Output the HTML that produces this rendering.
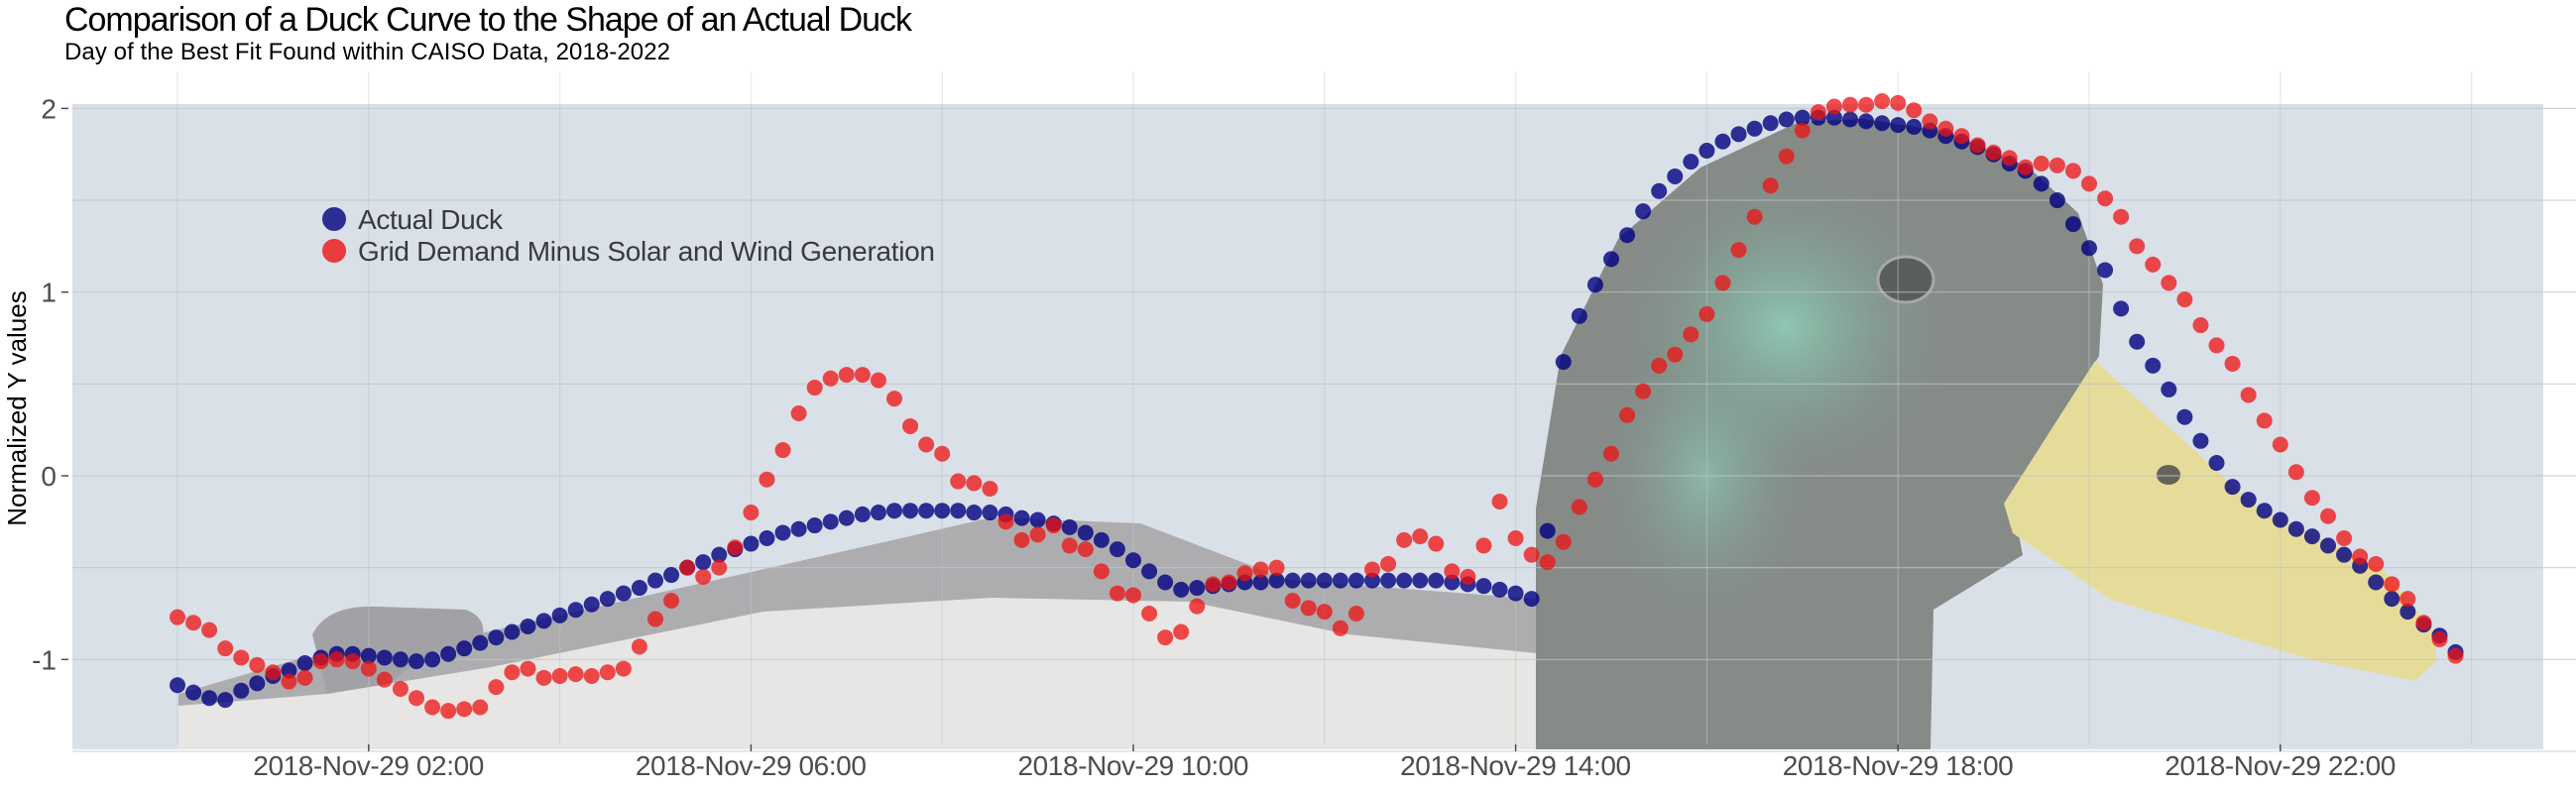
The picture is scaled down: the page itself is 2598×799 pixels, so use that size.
<!DOCTYPE html>
<html><head><meta charset="utf-8"><style>
html,body{margin:0;padding:0;background:#fff;}
svg{display:block;}
.nar{font-family:"Liberation Sans Narrow","Liberation Sans",sans-serif;}
</style></head><body>
<svg id="chart" width="2598" height="799" viewBox="0 0 2598 799" xmlns="http://www.w3.org/2000/svg">
<defs>
<radialGradient id="greenPatch" cx="0.5" cy="0.5" r="0.5">
<stop offset="0" stop-color="#8fd6bc"/><stop offset="1" stop-color="#7a9a8c" stop-opacity="0"/>
</radialGradient>
<clipPath id="panelClip"><rect x="73" y="105" width="2492" height="651"/></clipPath>
</defs>
<text class="nar" x="65" y="31" font-size="34" fill="#000" textLength="855">Comparison of a Duck Curve to the Shape of an Actual Duck</text>
<text class="nar" x="65" y="60" font-size="24" fill="#000" textLength="611">Day of the Best Fit Found within CAISO Data, 2018-2022</text>

<g id="gridOuter"></g>

<g clip-path="url(#panelClip)">
<rect x="73" y="105" width="2492" height="651" fill="#d9e0e8"/>
<path d="M180,700 L300,665 L480,640 L700,590 L900,545 L1000,522 L1150,528 L1300,585 L1560,605 L1560,756 L180,756 Z" fill="#adadb0"/>
<path d="M315,640 Q330,610 380,612 L470,615 Q495,625 484,650 L430,660 L380,700 L330,700 Z" fill="#a2a2a6"/>
<path d="M180,712 L330,700 L495,673 L770,617 L1000,603 L1200,607 L1360,640 L1560,660 L1560,756 L180,756 Z" fill="#e7e6e4"/>
<path d="M1549,756 L1549,513 L1574,359 L1632,241 L1715,169 L1814,123 L1880,120 L1963,133 L2046,169 L2096,215 L2121,287 L2117,359 L2030,508 L2040,560 L1950,615 L1947,756 Z" fill="#868b88"/>
<ellipse cx="1800" cy="330" rx="170" ry="160" fill="url(#greenPatch)" opacity="0.8"/>
<ellipse cx="1720" cy="480" rx="110" ry="150" fill="url(#greenPatch)" opacity="0.6"/>
<ellipse cx="1922" cy="282" rx="28" ry="23" fill="#5a5e5e" stroke="#a8a8a8" stroke-width="3"/>
<path d="M2113,364 L2278,513 L2403,574 L2457,640 L2457,667 L2436,687 L2336,667 L2129,605 L2030,538 L2021,508 Z" fill="#e6dc9a"/>
<ellipse cx="2187" cy="479" rx="12" ry="10" fill="#66645a"/>
</g>

<g id="gridInner"></g>
<g id="yAxis"></g>
<g id="xAxis"></g>
<text x="0" y="0" transform="translate(26,412) rotate(-90)" text-anchor="middle" font-family="Liberation Sans, sans-serif" font-size="26" fill="#000">Normalized Y values</text>
<g id="series"></g>

<g>
<g>
<circle cx="337" cy="221" r="12" fill="#000080" fill-opacity="0.8"/>
<text class="nar" x="361" y="231" font-size="28" fill="#3a3a3a" textLength="146">Actual Duck</text>
</g>
<g>
<circle cx="337" cy="253" r="12" fill="#ee1111" fill-opacity="0.8"/>
<text class="nar" x="361" y="263" font-size="28" fill="#3a3a3a" textLength="582">Grid Demand Minus Solar and Wind Generation</text>
</g>
</g>
</svg>
<script>
var duckValues = [-1.14,-1.18,-1.21,-1.22,-1.17,-1.13,-1.09,-1.06,-1.02,-0.99,-0.97,-0.97,-0.98,-0.99,-1.00,-1.01,-1.00,-0.97,-0.94,-0.91,-0.88,-0.85,-0.82,-0.79,-0.76,-0.73,-0.70,-0.67,-0.64,-0.61,-0.57,-0.54,-0.50,-0.47,-0.43,-0.40,-0.37,-0.34,-0.31,-0.29,-0.27,-0.25,-0.23,-0.21,-0.20,-0.19,-0.19,-0.19,-0.19,-0.19,-0.20,-0.20,-0.21,-0.23,-0.24,-0.26,-0.28,-0.31,-0.35,-0.40,-0.46,-0.52,-0.58,-0.62,-0.61,-0.60,-0.59,-0.58,-0.58,-0.57,-0.57,-0.57,-0.57,-0.57,-0.57,-0.57,-0.57,-0.57,-0.57,-0.57,-0.58,-0.59,-0.60,-0.62,-0.64,-0.67,-0.30,0.62,0.87,1.04,1.18,1.31,1.44,1.55,1.63,1.71,1.77,1.82,1.86,1.89,1.92,1.94,1.95,1.95,1.95,1.94,1.93,1.92,1.91,1.90,1.88,1.85,1.82,1.79,1.75,1.70,1.66,1.59,1.50,1.37,1.24,1.12,0.91,0.73,0.60,0.47,0.32,0.19,0.07,-0.06,-0.13,-0.19,-0.24,-0.29,-0.33,-0.38,-0.43,-0.49,-0.58,-0.67,-0.74,-0.81,-0.87,-0.96];
var gridValues = [-0.77,-0.80,-0.84,-0.94,-0.99,-1.03,-1.07,-1.12,-1.10,-1.01,-1.00,-1.01,-1.05,-1.11,-1.16,-1.21,-1.26,-1.28,-1.27,-1.26,-1.15,-1.07,-1.05,-1.10,-1.09,-1.08,-1.09,-1.07,-1.05,-0.93,-0.78,-0.68,-0.50,-0.55,-0.50,-0.39,-0.20,-0.02,0.14,0.34,0.48,0.53,0.55,0.55,0.52,0.42,0.27,0.17,0.12,-0.03,-0.04,-0.07,-0.25,-0.35,-0.32,-0.27,-0.38,-0.40,-0.52,-0.64,-0.65,-0.75,-0.88,-0.85,-0.71,-0.59,-0.58,-0.53,-0.51,-0.50,-0.68,-0.72,-0.74,-0.83,-0.75,-0.51,-0.48,-0.35,-0.33,-0.37,-0.52,-0.55,-0.38,-0.14,-0.34,-0.43,-0.47,-0.36,-0.17,-0.02,0.12,0.33,0.46,0.60,0.66,0.77,0.88,1.05,1.23,1.41,1.58,1.74,1.88,1.98,2.01,2.02,2.02,2.04,2.03,1.99,1.93,1.89,1.85,1.80,1.76,1.73,1.68,1.70,1.69,1.66,1.59,1.51,1.41,1.25,1.15,1.05,0.96,0.82,0.71,0.61,0.44,0.30,0.17,0.02,-0.12,-0.22,-0.34,-0.44,-0.48,-0.59,-0.67,-0.80,-0.89,-0.98];
var stepMinutes = 10;
var xTickHours = [2,6,10,14,18,22];
var xTickLabels = ["2018-Nov-29 02:00","2018-Nov-29 06:00","2018-Nov-29 10:00","2018-Nov-29 14:00","2018-Nov-29 18:00","2018-Nov-29 22:00"];
var xMinorHours = [0,4,8,12,16,20,24];
var yTickValues = [-1,0,1,2];
var yTickLabels = ["-1","0","1","2"];
var yGridValues = [-1.5,-1,-0.5,0,0.5,1,1.5,2];

var NS = "http://www.w3.org/2000/svg";
function xScale(h){ return 179 + h*96.4; }
function yScale(v){ return 480 - v*185.3; }
function mk(tag, attrs, parent){
  var e = document.createElementNS(NS, tag);
  for (var k in attrs) e.setAttribute(k, attrs[k]);
  parent.appendChild(e);
  return e;
}
var gOuter = document.getElementById('gridOuter');
var gInner = document.getElementById('gridInner');
var hours = xMinorHours.concat(xTickHours);
hours.forEach(function(h){
  var x = xScale(h);
  var l1 = mk('line',{x1:x,x2:x,y1:72,y2:105,stroke:'#ebebeb','stroke-width':1.5},gOuter);
  
  
  var l2 = mk('line',{x1:x,x2:x,y1:105,y2:751,stroke:'#bfc3c9','stroke-width':1,'stroke-opacity':0.6},gInner);
  
  
});
yGridValues.forEach(function(v){
  var y = yScale(v);
  if (y < 100 || y > 760) return;
  var l = mk('line',{x1:73,x2:2598,y1:y,y2:y,stroke:'#bfc3c9','stroke-width':1.2,'stroke-opacity':0.7},gInner);
  
  
});
var yAx = document.getElementById('yAxis');
yTickValues.forEach(function(v,i){
  var y = yScale(v);
  var t = mk('text',{x:57,y:y+10,'text-anchor':'end','font-size':28,fill:'#4d4d4d','class':'nar'},yAx);
  t.textContent = yTickLabels[i];
  
  
  var tk = mk('line',{x1:62,x2:69,y1:y,y2:y,stroke:'#4d4d4d','stroke-width':1.5},yAx);
  
  
});
var xAx = document.getElementById('xAxis');
xTickHours.forEach(function(h,i){
  var x = xScale(h);
  var t = mk('text',{x:x,y:782,'text-anchor':'middle','font-size':28,fill:'#4d4d4d','class':'nar',textLength:233},xAx);
  t.textContent = xTickLabels[i];
  
  
  var tk = mk('line',{x1:x,x2:x,y1:751,y2:758,stroke:'#4d4d4d','stroke-width':1.5},xAx);
  
  
});
var gs = document.getElementById('series');
var gDuck = mk('g',{},gs);


duckValues.forEach(function(v,i){
  var c = mk('circle',{cx:xScale(i*stepMinutes/60),cy:yScale(v),r:8,fill:'#000080','fill-opacity':0.8},gDuck);
  
  
});
var gGrid = mk('g',{},gs);


gridValues.forEach(function(v,i){
  var c = mk('circle',{cx:xScale(i*stepMinutes/60),cy:yScale(v),r:8,fill:'#ee1111','fill-opacity':0.75},gGrid);
  
  
});
</script>
</body></html>
